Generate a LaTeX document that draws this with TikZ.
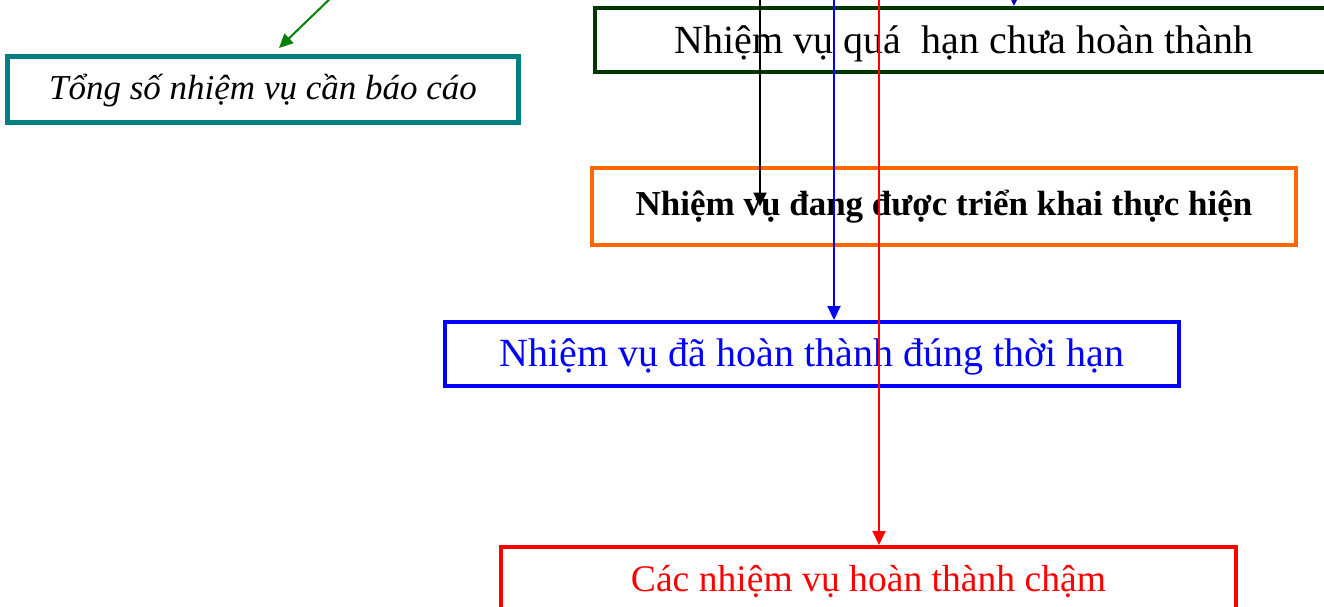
\documentclass[tikz,border=0pt]{standalone}
\usepackage{fontspec}
\setmainfont{Liberation Serif}
\usetikzlibrary{arrows.meta}
\definecolor{tealbox}{RGB}{0,128,128}
\definecolor{darkbox}{RGB}{0,56,0}
\definecolor{orangebox}{RGB}{255,102,0}
\definecolor{greenarrow}{RGB}{0,128,0}
% lower a text line without changing the size its node reserves
\newcommand{\lowered}[2]{\raisebox{-#1}[\height][\depth]{#2}}
\tikzset{
  box/.style={draw, rectangle, inner sep=0pt, line width=4pt, align=center},
  arr/.style={line width=2pt, -{Triangle[length=14pt,width=13pt]}},
}
\begin{document}
\begin{tikzpicture}[x=1pt,y=-1pt]
\useasboundingbox (0,0) rectangle (1324,607);
\clip (0,0) rectangle (1324,607);

% boxes
\node[box, draw=tealbox, line width=5pt, minimum width=511pt, minimum height=66pt,
      font=\fontsize{35}{40}\selectfont\itshape] (total) at (263,89.5)
      {\lowered{1pt}{Tổng số nhiệm vụ cần báo cáo}};
\node[box, draw=darkbox, minimum width=738pt, minimum height=64pt,
      font=\fontsize{40}{46}\selectfont] (overdue) at (964,40)
      {\lowered{4pt}{Nhiệm vụ quá \ hạn chưa hoàn thành}};
\node[box, draw=orangebox, minimum width=704pt, minimum height=77pt,
      font=\fontsize{35}{40}\selectfont\bfseries] (ongoing) at (944,206.5)
      {Nhiệm vụ đang được triển khai thực hiện};
\node[box, draw=blue, text=blue, minimum width=734pt, minimum height=64pt,
      font=\fontsize{40}{46}\selectfont] (ontime) at (812,354)
      {\lowered{3pt}{Nhiệm vụ đã hoàn thành đúng thời hạn}};
\node[box, draw=red, text=red, minimum width=735pt, minimum height=66pt,
      font=\fontsize{37.6}{43}\selectfont] (late) at (868.5,580)
      {\lowered{2pt}{Các nhiệm vụ hoàn thành chậm}};

% free upper ends of the connectors
\coordinate (gsrc) at (337,-8);
\coordinate (ksrc) at (760,-10);
\coordinate (bsrc) at (834,-10);
\coordinate (rsrc) at (879,-10);
\coordinate (nsrc) at (1014,-20);
\coordinate (gend) at (279,48);

% connectors
\draw[arr, greenarrow] (gsrc) -- (gend);
\draw[arr, black] (ksrc) -- (ksrc |- ongoing.center);
\draw[arr, blue] (bsrc) -- (bsrc |- ontime.north);
\draw[arr, red] (rsrc) -- (rsrc |- late.north);
\draw[arr, blue!70!black] (nsrc) -- (nsrc |- overdue.north);
\end{tikzpicture}
\end{document}
